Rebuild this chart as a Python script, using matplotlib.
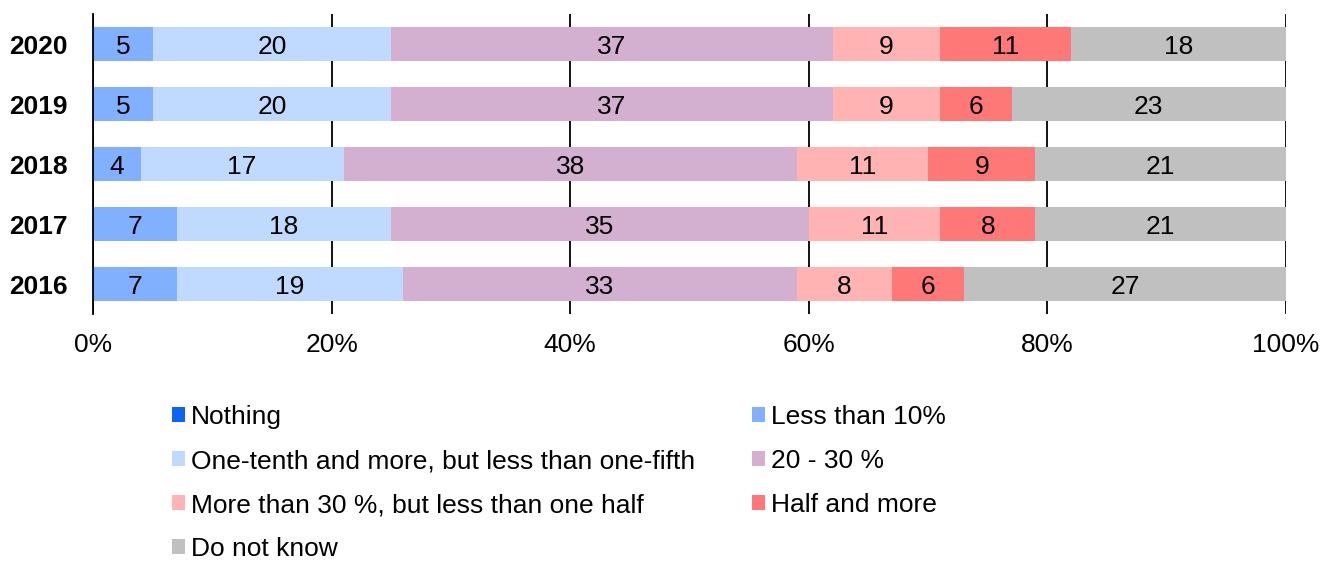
import matplotlib
matplotlib.use("Agg")
import matplotlib.pyplot as plt
import numpy as np

plt.rcParams['font.family'] = ['Liberation Sans', 'DejaVu Sans']

years = ["2020", "2019", "2018", "2017", "2016"]
categories = [
    "Nothing",
    "Less than 10%",
    "One-tenth and more, but less than one-fifth",
    "20 - 30 %",
    "More than 30 %, but less than one half",
    "Half and more",
    "Do not know",
]
colors = ["#0A64F5", "#80B0FF", "#C0DAFF", "#D3B0D0", "#FFB3B3", "#FF7878", "#C0C0C0"]

nothing        = [0, 0, 0, 0, 0]
less_than_10   = [5, 5, 4, 7, 7]
tenth_to_fifth = [20, 20, 17, 18, 19]
twenty_thirty  = [37, 37, 38, 35, 33]
thirty_to_half = [9, 9, 11, 11, 8]
half_and_more  = [11, 6, 9, 8, 6]
do_not_know    = [18, 23, 21, 21, 27]

series = [nothing, less_than_10, tenth_to_fifth, twenty_thirty,
          thirty_to_half, half_and_more, do_not_know]

FS = 19

W, H = 1333, 561
fig = plt.figure(figsize=(W / 100, H / 100), dpi=100)
ax = fig.add_axes([93 / W, 1 - 314 / H, (1286 - 93) / W, 300 / H])

ypos = np.arange(len(years))[::-1]  # 2020 on top
left = np.zeros(len(years))
handles = []
for vals, name, col in zip(series, categories, colors):
    vals = np.array(vals, dtype=float)
    bars = ax.barh(ypos, vals, left=left, height=0.57, color=col,
                   edgecolor="none", label=name, zorder=2)
    handles.append(bars)
    for y, l, v in zip(ypos, left, vals):
        if v > 0:
            ax.text(l + v / 2, y, f"{v:g}", ha="center", va="center_baseline",
                    fontsize=FS, color="black", zorder=3)
    left += vals

ax.set_xlim(0, 100)
ax.set_ylim(-0.5, len(years) - 0.5)
ax.set_xticks(np.arange(0, 101, 20))
ax.set_xticklabels([f"{t}%" for t in range(0, 101, 20)], fontsize=FS)
ax.set_yticks(ypos)
ax.set_yticklabels(years, fontsize=FS, fontweight="bold")
ax.tick_params(axis="both", length=0)
ax.tick_params(axis="y", pad=18)
ax.tick_params(axis="x", pad=14)
ax.xaxis.grid(True, color="black", linewidth=1.3, zorder=1)
ax.set_axisbelow(True)
for s in ["top", "right", "bottom"]:
    ax.spines[s].set_visible(False)
ax.spines["left"].set_color("black")
ax.spines["left"].set_linewidth(1.3)

# legend: two columns filled row by row
order = [0, 2, 4, 6, 1, 3, 5]
fig.legend([handles[i] for i in order], [categories[i] for i in order],
           loc="upper left", bbox_to_anchor=(172 / W, 1 - 405 / H),
           ncol=2, frameon=False, fontsize=FS,
           handlelength=0.5, handleheight=0.5, handletextpad=0.23,
           columnspacing=2.15, labelspacing=0.76, borderpad=0, borderaxespad=0)

fig.savefig("out.png", dpi=100)
